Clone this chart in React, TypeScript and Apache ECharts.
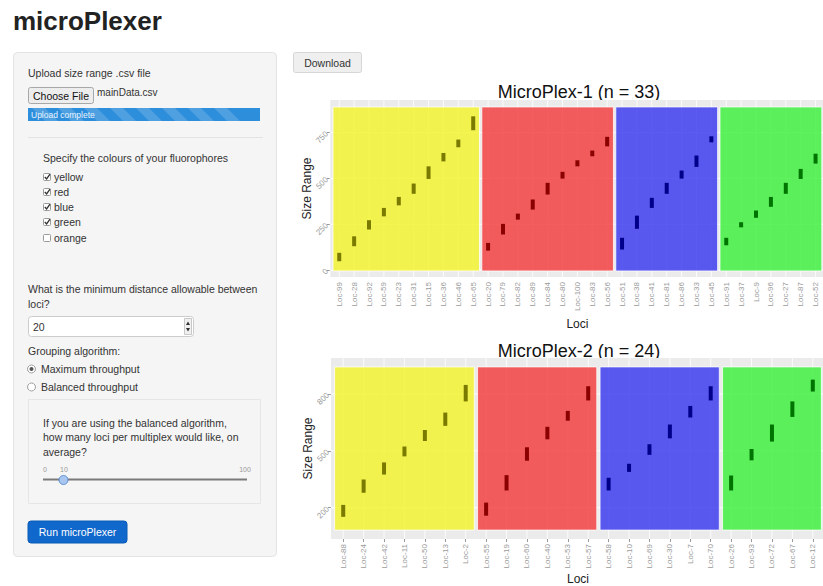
import React, { useEffect, useRef } from "react";
import * as echarts from "echarts";

const FONT = '"Liberation Sans", Arial, Helvetica, sans-serif';

// ---------- MicroPlex-1 ----------
const plex1Loci = [
  "Loc-99", "Loc-28", "Loc-92", "Loc-59", "Loc-23", "Loc-31", "Loc-15", "Loc-36", "Loc-46", "Loc-65",
  "Loc-20", "Loc-79", "Loc-82", "Loc-89", "Loc-84", "Loc-80", "Loc-100", "Loc-83", "Loc-56",
  "Loc-51", "Loc-38", "Loc-41", "Loc-81", "Loc-86", "Loc-33", "Loc-45",
  "Loc-91", "Loc-37", "Loc-9", "Loc-96", "Loc-27", "Loc-87", "Loc-52",
];
const plex1Low = [
  48, 130, 221, 293, 353, 416, 497, 593, 670, 763,
  106, 194, 275, 330, 412, 499, 566, 621, 675,
  112, 225, 339, 416, 499, 563, 697,
  135, 233, 285, 345, 416, 497, 581,
];
const plex1High = [
  94, 184, 272, 339, 399, 472, 566, 639, 712, 839,
  148, 252, 308, 385, 476, 536, 599, 652, 727,
  176, 297, 394, 476, 543, 625, 730,
  176, 261, 325, 399, 476, 552, 635,
];
const plex1GroupSizes = [10, 9, 7, 7];
const plex1BandRange = [-5, 890];
const plex1YRange = [-38, 928];
const plex1YTicks = [0, 250, 500, 750];

// ---------- MicroPlex-2 ----------
const plex2Loci = [
  "Loc-88", "Loc-24", "Loc-42", "Loc-11", "Loc-50", "Loc-13", "Loc-2",
  "Loc-55", "Loc-19", "Loc-60", "Loc-40", "Loc-53", "Loc-57",
  "Loc-58", "Loc-10", "Loc-69", "Loc-30", "Loc-7", "Loc-70",
  "Loc-26", "Loc-93", "Loc-72", "Loc-67", "Loc-12",
];
const plex2Low = [
  152, 279, 375, 471, 552, 632, 761,
  158, 291, 448, 561, 659, 766,
  291, 389, 479, 566, 676, 766,
  291, 450, 549, 679, 813,
];
const plex2High = [
  215, 349, 439, 523, 610, 702, 848,
  227, 372, 519, 627, 711, 841,
  358, 432, 535, 639, 737, 841,
  370, 510, 639, 761, 876,
];
const plex2GroupSizes = [7, 6, 6, 5];
const plex2BandRange = [82, 943];
const plex2YRange = [35, 990];
const plex2YTicks = [200, 500, 800];

const groupFills = [
  "rgba(243,243,53,0.86)",
  "rgba(243,67,67,0.86)",
  "rgba(64,64,240,0.86)",
  "rgba(67,241,67,0.86)",
];
const groupMarks = ["#7A7A00", "#8B0000", "#00008B", "#007400"];

const colours = ["yellow", "red", "blue", "green", "orange"];
const coloursChecked = [true, true, true, true, false];

function buildPlex(
  g: number,
  loci: string[],
  low: number[],
  high: number[],
  sizes: number[],
  bandRange: number[],
  yRange: number[],
  yTicks: number[],
  nameGapX: number
) {
  const groupOf: number[] = [];
  const bgData: number[][] = [];
  let start = 0;
  sizes.forEach((s, gi) => {
    for (let k = 0; k < s; k++) groupOf.push(gi);
    bgData.push([start, start + s - 1, bandRange[0], bandRange[1], gi]);
    start += s;
  });

  const xAxis = {
    type: "category",
    gridIndex: g,
    data: loci,
    boundaryGap: true,
    axisLine: { show: false },
    axisTick: { show: true, alignWithLabel: true, length: 3, lineStyle: { color: "#9a9a9a" } },
    axisLabel: { interval: 0, rotate: 90, fontSize: 8, color: "#9a9a9a", margin: 5, fontFamily: FONT },
    splitLine: { show: false },
    name: "Loci",
    nameLocation: "middle",
    nameGap: nameGapX,
    nameTextStyle: { fontSize: 12, color: "#222", fontFamily: FONT },
  };
  const yAxis = {
    type: "value",
    gridIndex: g,
    min: yRange[0],
    max: yRange[1],
    offset: 2,
    axisLine: { show: false },
    splitLine: { show: false },
    axisTick: { show: true, length: 3, customValues: yTicks, lineStyle: { color: "#9a9a9a" } },
    axisLabel: { customValues: yTicks, rotate: 45, fontSize: 8, color: "#9a9a9a", margin: 3, fontFamily: FONT },
    name: "Size Range",
    nameLocation: "middle",
    nameGap: 17,
    nameMoveOverlap: false,
    nameTextStyle: { fontSize: 12, color: "#222", fontFamily: FONT },
  };

  const panel = {
    type: "custom",
    xAxisIndex: g,
    yAxisIndex: g,
    z: 1,
    silent: true,
    data: [[0, yRange[0]]],
    renderItem: (params: any, api: any) => {
      const cs = params.coordSys;
      const band = api.size([1, 0])[0];
      const pad = band * 0.1;
      return {
        type: "rect",
        shape: { x: cs.x - pad, y: cs.y, width: cs.width + 2 * pad, height: cs.height },
        style: { fill: "#EBEBEB" },
      };
    },
  };
  const hGrid = {
    type: "custom",
    xAxisIndex: g,
    yAxisIndex: g,
    z: 2,
    silent: true,
    data: yTicks.map((v) => [0, v]),
    renderItem: (params: any, api: any) => {
      const cs = params.coordSys;
      const band = api.size([1, 0])[0];
      const y = api.coord([0, api.value(1)])[1];
      return {
        type: "line",
        shape: { x1: cs.x - band * 0.1, y1: y, x2: cs.x + cs.width + band * 0.1, y2: y },
        style: { stroke: "#FFFFFF", lineWidth: 1 },
      };
    },
  };
  const vGrid = {
    type: "custom",
    xAxisIndex: g,
    yAxisIndex: g,
    z: 2,
    silent: true,
    data: loci.map((_, i) => [i, yRange[0]]),
    renderItem: (params: any, api: any) => {
      const cs = params.coordSys;
      const x = api.coord([api.value(0), yRange[0]])[0];
      return {
        type: "line",
        shape: { x1: x, y1: cs.y, x2: x, y2: cs.y + cs.height },
        style: { stroke: "#FFFFFF", lineWidth: 0.8 },
      };
    },
  };
  const bg = {
    type: "custom",
    xAxisIndex: g,
    yAxisIndex: g,
    z: 3,
    silent: true,
    encode: { x: [0, 1], y: [2, 3] },
    data: bgData,
    renderItem: (params: any, api: any) => {
      const band = api.size([1, 0])[0];
      const p0 = api.coord([api.value(0), api.value(3)]);
      const p1 = api.coord([api.value(1), api.value(2)]);
      const x0 = p0[0] - band * 0.42;
      const x1 = p1[0] + band * 0.42;
      return {
        type: "rect",
        shape: { x: x0, y: p0[1], width: x1 - x0, height: p1[1] - p0[1] },
        style: { fill: groupFills[api.value(4)], stroke: "rgba(255,255,255,0.75)", lineWidth: 1 },
      };
    },
  };
  const ranges = {
    type: "custom",
    xAxisIndex: g,
    yAxisIndex: g,
    z: 4,
    encode: { x: 0, y: [1, 2] },
    data: loci.map((_, i) => [i, low[i], high[i], groupOf[i]]),
    renderItem: (params: any, api: any) => {
      const pLow = api.coord([api.value(0), api.value(1)]);
      const pHigh = api.coord([api.value(0), api.value(2)]);
      const w = 4;
      return {
        type: "rect",
        shape: { x: pLow[0] - w / 2, y: pHigh[1], width: w, height: pLow[1] - pHigh[1] },
        style: { fill: groupMarks[api.value(3)] },
      };
    },
  };
  return { xAxis, yAxis, series: [panel, hGrid, vGrid, bg, ranges] };
}

function text(x: number, y: number, t: string, size = 10.5, fill = "#333", extra: any = {}) {
  return {
    type: "text",
    x,
    y,
    silent: true,
    style: {
      text: t,
      fill,
      font: `${extra.weight || "normal"} ${size}px ${FONT}`,
      align: extra.align || "left",
      verticalAlign: "middle",
    },
  };
}

function sidebar() {
  const els: any[] = [];
  els.push(text(13, 21, "microPlexer", 26, "#222", { weight: "bold" }));
  // well panel
  els.push({
    type: "rect",
    shape: { x: 13.5, y: 52.5, width: 263, height: 504, r: 4 },
    style: { fill: "#F5F5F5", stroke: "#E3E3E3", lineWidth: 1 },
  });
  els.push(text(28, 73, "Upload size range .csv file"));
  els.push({
    type: "rect",
    shape: { x: 28.5, y: 87.5, width: 65, height: 16, r: 2 },
    style: { fill: "#EDEDED", stroke: "#A8A8A8", lineWidth: 1 },
  });
  els.push(text(61, 95.5, "Choose File", 10.5, "#111", { align: "center" }));
  els.push(text(97, 92, "mainData.csv", 10, "#333"));
  // progress bar
  const px = 28, py = 108, pw = 232, ph = 13;
  els.push({ type: "rect", shape: { x: px, y: py, width: pw, height: ph }, style: { fill: "#2D8EDB" } });
  for (let sx = px + 4; sx + 13 + ph <= px + pw; sx += 26) {
    els.push({
      type: "polygon",
      shape: { points: [[sx, py], [sx + 13, py], [sx + 13 + ph, py + ph], [sx + ph, py + ph]] },
      style: { fill: "rgba(255,255,255,0.16)" },
    });
  }
  els.push(text(31, 114.5, "Upload complete", 8.5, "#E8F3FF"));
  // colours group
  els.push({ type: "line", shape: { x1: 28, y1: 137.5, x2: 263, y2: 137.5 }, style: { stroke: "#E3E3E3", lineWidth: 1 } });
  els.push(text(43, 158, "Specify the colours of your fluorophores"));
  const cbY = [177, 192, 207, 222, 238];
  colours.forEach((c, i) => {
    const y = cbY[i];
    els.push({
      type: "rect",
      shape: { x: 43.5, y: y - 3.5, width: 7, height: 7, r: 1 },
      style: { fill: "#FFFFFF", stroke: "#9A9A9A", lineWidth: 1 },
    });
    if (coloursChecked[i]) {
      els.push({
        type: "polyline",
        shape: { points: [[44.8, y], [46.6, y + 2], [50, y - 2.8]] },
        style: { stroke: "#333", lineWidth: 1.3, fill: null },
      });
    }
    els.push(text(54, y, c));
  });
  els.push(text(28, 289, "What is the minimum distance allowable between"));
  els.push(text(28, 304, "loci?"));
  els.push({
    type: "rect",
    shape: { x: 28.5, y: 316.5, width: 165, height: 20, r: 3 },
    style: { fill: "#FFFFFF", stroke: "#CCCCCC", lineWidth: 1 },
  });
  els.push(text(33, 326.5, "20"));
  els.push({
    type: "rect",
    shape: { x: 184.5, y: 318.5, width: 7, height: 16 },
    style: { fill: "#F0F0F0", stroke: "#BBBBBB", lineWidth: 0.8 },
  });
  els.push({ type: "polygon", shape: { points: [[186, 325], [190, 325], [188, 321.5]] }, style: { fill: "#333" } });
  els.push({ type: "polygon", shape: { points: [[186, 328], [190, 328], [188, 331.5]] }, style: { fill: "#333" } });
  els.push(text(28, 351, "Grouping algorithm:"));
  const radios = [
    ["Maximum throughput", 369, true],
    ["Balanced throughput", 387, false],
  ] as [string, number, boolean][];
  radios.forEach(([t, y, sel]) => {
    els.push({ type: "circle", shape: { cx: 31.5, cy: y, r: 4 }, style: { fill: "#FFFFFF", stroke: "#A0A0A0", lineWidth: 1 } });
    if (sel) els.push({ type: "circle", shape: { cx: 31.5, cy: y, r: 2 }, style: { fill: "#555" } });
    els.push(text(41, y, t));
  });
  els.push({
    type: "rect",
    shape: { x: 28.5, y: 399.5, width: 232, height: 104 },
    style: { fill: "#F5F5F5", stroke: "#E6E6E6", lineWidth: 1 },
  });
  els.push(text(43, 423, "If you are using the balanced algorithm,"));
  els.push(text(43, 437, "how many loci per multiplex would like, on"));
  els.push(text(43, 452, "average?"));
  els.push(text(45, 469, "0", 7, "#999", { align: "center" }));
  els.push(text(64, 469, "10", 7, "#999", { align: "center" }));
  els.push(text(245, 469, "100", 7, "#999", { align: "center" }));
  els.push({ type: "line", shape: { x1: 43, y1: 479.5, x2: 247, y2: 479.5 }, style: { stroke: "#7A7A7A", lineWidth: 2 } });
  els.push({ type: "circle", shape: { cx: 63.5, cy: 480, r: 4.5 }, style: { fill: "#A8C6EE", stroke: "#5A8DD6", lineWidth: 1 } });
  els.push({
    type: "rect",
    shape: { x: 28, y: 521, width: 99, height: 22, r: 3 },
    style: { fill: "#1168CC", stroke: "#0B5AB4", lineWidth: 1 },
  });
  els.push(text(77.5, 532, "Run microPlexer", 10.5, "#FFFFFF", { align: "center" }));
  // download
  els.push({
    type: "rect",
    shape: { x: 293.5, y: 52.5, width: 68, height: 20, r: 2 },
    style: { fill: "#EFEFEF", stroke: "#D6D6D6", lineWidth: 1 },
  });
  els.push(text(327.5, 62.5, "Download", 10.5, "#333", { align: "center" }));
  // chart titles
  els.push(text(579, 92, "MicroPlex-1 (n = 33)", 18, "#111", { align: "center" }));
  els.push(text(579, 351, "MicroPlex-2 (n = 24)", 18, "#111", { align: "center" }));
  return els;
}

export default function App() {
  const ref = useRef<HTMLDivElement>(null);
  useEffect(() => {
    if (!ref.current) return;
    const chart = echarts.init(ref.current, undefined, { renderer: "svg" });
    const p1 = buildPlex(0, plex1Loci, plex1Low, plex1High, plex1GroupSizes, plex1BandRange, plex1YRange, plex1YTicks, 41);
    const p2 = buildPlex(1, plex2Loci, plex2Low, plex2High, plex2GroupSizes, plex2BandRange, plex2YRange, plex2YTicks, 34);
    chart.setOption({
      animation: false,
      backgroundColor: "#FFFFFF",
      textStyle: { fontFamily: FONT },
      grid: [
        { left: 331.8, top: 100, width: 495, height: 177, containLabel: false },
        { left: 333.0, top: 358, width: 493, height: 184, containLabel: false },
      ],
      xAxis: [p1.xAxis, p2.xAxis],
      yAxis: [p1.yAxis, p2.yAxis],
      series: [...p1.series, ...p2.series],
      graphic: sidebar(),
    });
    return () => chart.dispose();
  }, []);
  return (
    <div style={{ position: "fixed", left: 0, top: 0, width: 823, height: 586, overflow: "hidden", background: "#fff" }}>
      <div ref={ref} style={{ width: 823, height: 586 }} />
    </div>
  );
}
